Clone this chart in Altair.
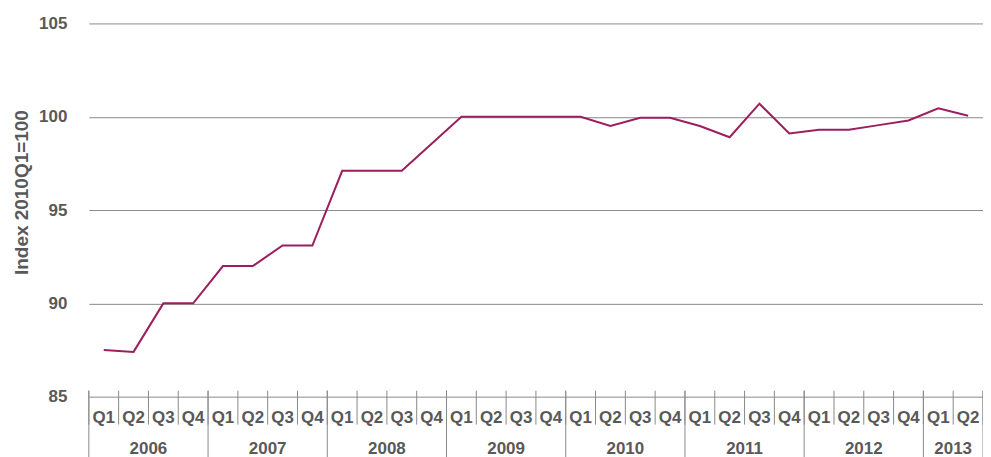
import altair as alt
import pandas as pd

# ---- data ----
years = ["2006", "2007", "2008", "2009", "2010", "2011", "2012", "2013"]
quarters_per_year = [4, 4, 4, 4, 4, 4, 4, 2]
quarter_names = ["Q1", "Q2", "Q3", "Q4"]
index_values = [
    87.5, 87.4, 90.0, 90.0,
    92.0, 92.0, 93.1, 93.1,
    97.1, 97.1, 97.1, 98.55,
    100.0, 100.0, 100.0, 100.0,
    100.0, 99.5, 99.95, 99.95,
    99.5, 98.9, 100.7, 99.1,
    99.3, 99.3, 99.55, 99.8,
    100.45, 100.05,
]
y_ticks = [85, 90, 95, 100, 105]
y_title = "Index 2010Q1=100"

# ---- tables built from the lists ----
rows = []
i = 0
for yr, n in zip(years, quarters_per_year):
    for q in range(n):
        rows.append({"idx": i, "year": yr, "quarter": quarter_names[q],
                     "value": index_values[i]})
        i += 1
df = pd.DataFrame(rows)
n_total = len(df)

quarter_bounds = pd.DataFrame({"b": [k - 0.5 for k in range(n_total + 1)]})
year_rows = []
start = 0
for yr, n in zip(years, quarters_per_year):
    year_rows.append({"year": yr, "b": start - 0.5, "center": start + n / 2 - 0.5})
    start += n
year_df = pd.DataFrame(year_rows)
year_end = pd.DataFrame({"b": [start - 0.5]})
year_bounds = pd.concat([year_df[["b"]], year_end], ignore_index=True)

W, H = 896, 374
FONT = "Liberation Sans"
TXT = "#595959"
GRID = "#8a8a8a"
LINE = "#9b1f5e"

xscale = alt.Scale(domain=[-0.5, n_total - 0.5], nice=False, zero=False)
yscale = alt.Scale(domain=[y_ticks[0], y_ticks[-1]], nice=False, zero=False)

xaxis = alt.Axis(labels=False, ticks=False, grid=False, domain=True,
                 domainColor=GRID, domainWidth=1, title=None)
yaxis = alt.Axis(values=y_ticks, ticks=False, domain=False, grid=True,
                 gridColor=GRID, gridWidth=1, labelPadding=22,
                 labelFont=FONT, labelFontSize=17, labelFontWeight="bold",
                 labelColor=TXT, title=y_title, titleFont=FONT, titleFontSize=19,
                 titleFontWeight="bold", titleColor=TXT, titlePadding=7, titleY=169)

line = alt.Chart(df).mark_line(color=LINE, strokeWidth=2).encode(
    x=alt.X("idx:Q", scale=xscale, axis=xaxis),
    y=alt.Y("value:Q", scale=yscale, axis=yaxis),
)

q_rules = alt.Chart(quarter_bounds).mark_rule(color=GRID, strokeWidth=1).encode(
    x=alt.X("b:Q", scale=xscale, axis=None),
    y=alt.value(H - 6),
    y2=alt.value(H + 28),
)

y_rules = alt.Chart(year_bounds).mark_rule(color=GRID, strokeWidth=1).encode(
    x=alt.X("b:Q", scale=xscale, axis=None),
    y=alt.value(H - 6),
    y2=alt.value(H + 70),
)

q_labels = alt.Chart(df).mark_text(
    font=FONT, fontSize=17, fontWeight="bold", color=TXT, baseline="middle"
).encode(
    x=alt.X("idx:Q", scale=xscale, axis=None),
    y=alt.value(H + 21),
    text="quarter:N",
)

y_labels = alt.Chart(year_df).mark_text(
    font=FONT, fontSize=17, fontWeight="bold", color=TXT, baseline="middle"
).encode(
    x=alt.X("center:Q", scale=xscale, axis=None),
    y=alt.value(H + 52),
    text="year:N",
)

chart = alt.layer(line, q_rules, y_rules, q_labels, y_labels).properties(
    width=W, height=H,
    autosize=alt.AutoSizeParams(type="none"),
    padding={"left": 81, "top": 15, "right": 0, "bottom": 60},
).configure_view(stroke=None)

chart.save("out.html", embed_options={"renderer": "svg", "actions": False})
